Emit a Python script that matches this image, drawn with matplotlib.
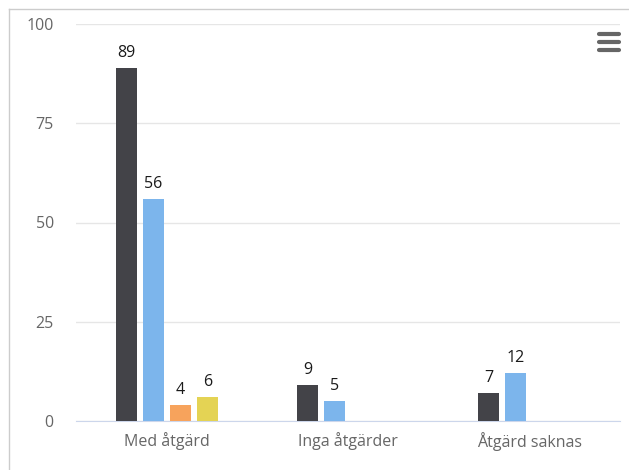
import matplotlib
matplotlib.use("Agg")
import matplotlib.pyplot as plt
from matplotlib.lines import Line2D
import numpy as np

categories = ["Med åtgärd", "Inga åtgärder", "Åtgärd saknas"]
series_dark = [89, 9, 7]
series_blue = [56, 5, 12]
series_orange = [4, None, None]
series_yellow = [6, None, None]
colors = ["#434348", "#7cb5ec", "#f7a35c", "#e4d354"]

plt.rcParams["font.family"] = ["Open Sans", "DejaVu Sans"]

fig = plt.figure(figsize=(6.29, 4.70), dpi=100)
ax = fig.add_axes([76 / 629, 49 / 470, 544 / 629, 397 / 470])

x = np.arange(len(categories))
pitch = 0.149
width = 0.116
all_series = [series_dark, series_blue, series_orange, series_yellow]
for i, (vals, col) in enumerate(zip(all_series, colors)):
    offset = (i - 1.5) * pitch
    for xi, v in zip(x, vals):
        if v is None:
            continue
        ax.bar(xi + offset, v, width=width, color=col, zorder=3)
        ax.text(xi + offset, v + 1.8, str(v), ha="center", va="bottom",
                fontsize=11.5, color="#1a1a1a", zorder=4)

ax.set_xlim(-0.5, 2.5)
ax.set_ylim(0, 100)
ax.set_yticks([0, 25, 50, 75, 100])
ax.set_xticks(x)
ax.set_xticklabels(categories)
ax.grid(axis="y", color="#e6e6e6", linewidth=1, zorder=0)
for side in ["top", "right", "left"]:
    ax.spines[side].set_visible(False)
ax.spines["bottom"].set_color("#ccd6eb")
ax.tick_params(axis="y", length=0, pad=16, labelsize=11.5, labelcolor="#666666")
ax.tick_params(axis="x", length=0, pad=8, labelsize=11.5, labelcolor="#666666")

# outer container border
fig.add_artist(Line2D([9 / 629, 9 / 629], [0, 1 - 9 / 470], color="#cccccc", lw=1))
fig.add_artist(Line2D([9 / 629, 1], [1 - 9 / 470, 1 - 9 / 470], color="#cccccc", lw=1))

# context menu icon
for yy in [34, 42, 50]:
    fig.add_artist(Line2D([599 / 629, 619 / 629], [1 - yy / 470, 1 - yy / 470],
                          color="#666666", lw=3, solid_capstyle="round"))

fig.savefig("out.png", dpi=100)
